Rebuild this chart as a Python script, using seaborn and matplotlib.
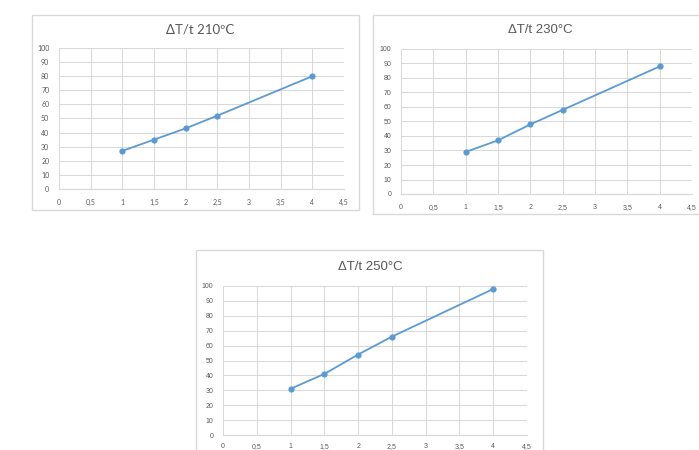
import matplotlib
matplotlib.use("Agg")
import matplotlib.pyplot as plt
from matplotlib.patches import Rectangle
import seaborn as sns
import pandas as pd

sns.set_theme(style="white")
plt.rcParams["font.family"] = ["Liberation Sans", "DejaVu Sans"]

# Time (x) and temperature rise (y) for each oven temperature
t_values = [1, 1.5, 2, 2.5, 4]
dT_210 = [27, 35, 43, 52, 80]
dT_230 = [29, 37, 48, 58, 88]
dT_250 = [31, 41, 54, 66, 98]

titles = ["\u0394T/t 210\u00baC", "\u0394T/t 230\u00b0C", "\u0394T/t 250\u00b0C"]

x_ticks = [0, 0.5, 1, 1.5, 2, 2.5, 3, 3.5, 4, 4.5]
x_tick_labels = ["0", "0,5", "1", "1,5", "2", "2,5", "3", "3,5", "4", "4,5"]
y_ticks = [0, 10, 20, 30, 40, 50, 60, 70, 80, 90, 100]
y_tick_labels = [str(v) for v in y_ticks]

W, H = 699, 450
fig = plt.figure(figsize=(W / 100, H / 100), dpi=100)

LINE = "#5b9bd5"
GRID = "#d9d9d9"
TEXT = "#595959"
BOX = "#d9d9d9"


def px_rect(l, t, r, b):
    return [l / W, 1 - b / H, (r - l) / W, (b - t) / H]


# Panel layout in pixels: (box, plot area, title position, font)
panels = [
    dict(box=(32, 15, 359, 210), plot=(59, 48, 344, 189), title=(200, 30),
         data=dT_210, title_text=titles[0], font="Lato", xpad=7),
    dict(box=(373, 15, 720, 214), plot=(401, 49, 692, 194), title=(540, 30),
         data=dT_230, title_text=titles[1], font="Liberation Sans", xpad=7),
    dict(box=(196, 250, 543, 470), plot=(223, 286, 527, 435), title=(370, 267),
         data=dT_250, title_text=titles[2], font="Liberation Sans", xpad=5.5),
]

for p in panels:
    l, t, r, b = p["box"]
    fig.patches.append(Rectangle((l / W, 1 - b / H), (r - l) / W, (b - t) / H,
                                 transform=fig.transFigure, fill=False,
                                 edgecolor=BOX, lw=1.0, zorder=-1))

for p in panels:
    ax = fig.add_axes(px_rect(*p["plot"]))
    df = pd.DataFrame({"t": t_values, "dT": p["data"]})
    sns.lineplot(data=df, x="t", y="dT", ax=ax, color=LINE, lw=1.3,
                 marker="o", markersize=4.5, markeredgecolor=LINE,
                 markeredgewidth=0, zorder=3, clip_on=False)
    ax.set_xlim(0, 4.5)
    ax.set_ylim(0, 100)
    ax.set_xticks(x_ticks)
    ax.set_xticklabels(x_tick_labels)
    ax.set_yticks(y_ticks)
    ax.set_yticklabels(y_tick_labels)
    ax.grid(True, color=GRID, lw=0.75)
    ax.set_axisbelow(True)
    for s in ["top", "right", "left"]:
        ax.spines[s].set_visible(False)
    ax.spines["bottom"].set_color(GRID)
    ax.spines["bottom"].set_linewidth(0.9)
    ax.tick_params(axis="both", length=0, labelsize=5, labelcolor=TEXT)
    ax.tick_params(axis="y", pad=7)
    ax.tick_params(axis="x", pad=p["xpad"])
    for lab in ax.get_xticklabels() + ax.get_yticklabels():
        lab.set_fontfamily(p["font"])
    ax.set_xlabel("")
    ax.set_ylabel("")
    ax.set_facecolor("none")
    tx, ty = p["title"]
    fig.text(tx / W, 1 - ty / H, p["title_text"], ha="center", va="center",
             fontsize=9.5, color=TEXT, family=p["font"])

fig.savefig("out.png", dpi=100, facecolor="white")
